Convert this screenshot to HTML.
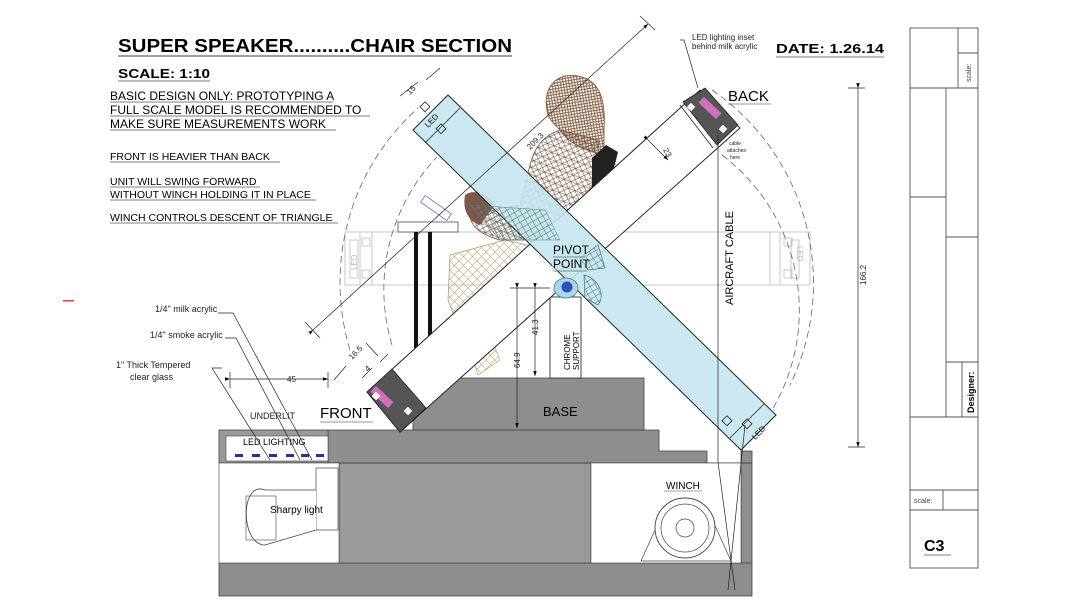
<!DOCTYPE html>
<html><head><meta charset="utf-8"><style>
html,body{margin:0;padding:0;background:#fff;}
svg{display:block;font-family:"Liberation Sans",Arial,sans-serif;}
</style></head><body>
<svg width="1080" height="608" viewBox="0 0 1080 608" xmlns="http://www.w3.org/2000/svg">
<defs>
<pattern id="hair" width="4" height="4" patternUnits="userSpaceOnUse" patternTransform="rotate(35)">
<rect width="4" height="4" fill="#fff"/><path d="M0 0L4 4M4 0L0 4" stroke="#7a5030" stroke-width="0.8"/></pattern>
<pattern id="mesh" width="7" height="7" patternUnits="userSpaceOnUse" patternTransform="rotate(20)">
<path d="M0 0L7 7M7 0L0 7M0 3.5H7" stroke="#6b4a3a" stroke-width="0.6" fill="none"/></pattern>
<pattern id="mesh2" width="8" height="8" patternUnits="userSpaceOnUse" patternTransform="rotate(15)">
<path d="M0 0L8 8M8 0L0 8" stroke="#5a8080" stroke-width="0.6" fill="none"/></pattern>
<pattern id="mesh3" width="9" height="9" patternUnits="userSpaceOnUse">
<path d="M0 0L9 9M9 0L0 9" stroke="#c9a080" stroke-width="0.6" fill="none"/></pattern>
<marker id="ar" markerWidth="8" markerHeight="8" refX="7" refY="4" orient="auto"><path d="M0 1.5L7 4L0 6.5z" fill="#000"/></marker>
</defs>

<!-- ghost horizontal bar -->
<g stroke="#bbb" stroke-width="0.8" fill="none">
<rect x="345" y="232" width="465" height="53"/>
<line x1="360" y1="232" x2="360" y2="285"/><line x1="372" y1="232" x2="372" y2="285"/>
<line x1="780" y1="232" x2="780" y2="285"/><line x1="770" y1="232" x2="770" y2="285"/>
<rect x="350" y="240" width="8" height="38"/><rect x="791" y="240" width="8" height="38"/>
<rect x="362" y="238" width="8" height="8"/><rect x="362" y="270" width="8" height="8"/>
<rect x="784" y="238" width="8" height="8"/><rect x="784" y="270" width="8" height="8"/>
</g>
<text x="0" y="0" font-size="8" fill="#bbb" transform="translate(357,270) rotate(-90)">LED</text>
<text x="0" y="0" font-size="8" fill="#bbb" transform="translate(797,246) rotate(90)">LED</text>

<!-- dashed arcs -->
<g fill="none" stroke="#666" stroke-width="0.8" stroke-dasharray="7,4">
<path d="M350 350 A234 234 0 0 1 418 108"/>
<path d="M712 90 A234 234 0 0 1 790 385"/>
<path d="M392 345 A192 192 0 0 1 437 157"/>
<path d="M722 155 A195 195 0 0 1 772 410"/>
</g>

<!-- base -->
<g fill="#8e8e8e" stroke="#444" stroke-width="0.8">
<rect x="219" y="563" width="533" height="33"/>
<polygon points="328,430 659,430 659,451 707,451 707,463 328,463"/>
<rect x="413" y="378" width="231" height="52"/>
<rect x="339" y="463" width="252" height="100" fill="#9a9a9a"/>
<rect x="741" y="451" width="11" height="112"/>
<rect x="219" y="430" width="109" height="33" fill="#9a9a9a"/>
</g>
<line x1="219" y1="463" x2="752" y2="463" stroke="#444"/>
<rect x="226" y="436" width="102" height="25" fill="#fff" stroke="#444" stroke-width="0.6"/>
<rect x="219" y="463" width="120" height="100" fill="#fff" stroke="#444" stroke-width="0.6"/>
<rect x="591" y="463" width="150" height="100" fill="#fff" stroke="#444" stroke-width="0.6"/>
<g fill="#22339a"><rect x="235" y="454" width="8" height="3"/><rect x="252" y="454" width="8" height="3"/><rect x="269" y="454" width="8" height="3"/><rect x="286" y="454" width="8" height="3"/><rect x="301" y="454" width="8" height="3"/><rect x="316" y="454" width="8" height="3"/></g>
<text x="243" y="445" font-size="9">LED LIGHTING</text>
<!-- sharpy -->
<rect x="316" y="468" width="22" height="62" fill="#fff" stroke="#444" stroke-width="0.7"/>
<path d="M316 490 L265 490 C240 480 240 545 265 545 L316 530" fill="#fff" stroke="#444" stroke-width="0.8"/>
<rect x="246" y="496" width="30" height="44" fill="none" stroke="#444" stroke-width="0.6"/>
<text x="270" y="513" font-size="10">Sharpy light</text>
<!-- winch -->
<polygon points="641,561 664,510 708,510 731,561" fill="#fff" stroke="#444" stroke-width="0.7"/>
<ellipse cx="685" cy="528" rx="30" ry="30" fill="#fff" stroke="#444" stroke-width="0.9"/>
<ellipse cx="685" cy="528" rx="24" ry="24" fill="none" stroke="#444" stroke-width="0.7"/>
<ellipse cx="685" cy="528" rx="9" ry="9" fill="none" stroke="#444" stroke-width="0.7"/>
<text x="666" y="489" font-size="10">WINCH</text>
<line x1="664" y1="491" x2="702" y2="491" stroke="#444" stroke-width="0.6"/>
<text x="543" y="416" font-size="13">BASE</text>

<!-- chrome support -->
<rect x="550" y="297" width="31" height="81" fill="#fff" stroke="#333" stroke-width="0.9"/>
<text font-size="8" transform="translate(570,370) rotate(-90)">CHROME</text>
<text font-size="8" transform="translate(579,370) rotate(-90)">SUPPORT</text>

<!-- table and chair -->
<rect x="398" y="222" width="60" height="10" fill="#fff" stroke="#333" stroke-width="0.7"/>
<rect x="420" y="204" width="32" height="8" fill="none" stroke="#6677bb" stroke-width="0.8" transform="rotate(35 436 208)"/>
<rect x="414" y="232" width="4" height="118" fill="#111"/>
<rect x="428" y="232" width="4" height="118" fill="#111"/>
<polygon points="450,255 505,240 540,248 490,295 465,345 448,300" fill="url(#mesh3)" stroke="#b0a070" stroke-width="0.8"/>
<polygon points="470,350 490,335 500,360 478,375" fill="url(#mesh3)" stroke="#b0a070" stroke-width="0.6"/>

<!-- person -->
<path d="M548 115 C540 85 560 72 578 76 C600 80 606 100 604 130 L604 155 C590 150 572 148 560 130 C555 125 550 120 548 115Z" fill="url(#hair)" stroke="#7a5030" stroke-width="0.8"/>
<path d="M560 130 L598 140 C600 160 592 195 580 210 L575 240 L500 240 C480 235 470 225 470 215 L520 205 L530 165 C535 145 545 135 560 130Z" fill="url(#mesh)" stroke="#6b4a3a" stroke-width="0.7"/>
<path d="M465 195 C475 188 490 195 495 205 L480 225 C470 222 462 212 465 195Z" fill="#7a5a4a"/>
<path d="M592 158 L606 145 L618 152 L605 205 L592 210Z" fill="#222"/>

<!-- front bar (white) -->
<polygon points="367,392 700,90 740,128 400,432" fill="#fff" stroke="#222" stroke-width="1"/>
<polygon points="367,392 392,369 426,408 400,432" fill="#555" stroke="#222" stroke-width="0.8"/>
<rect x="378" y="385" width="8" height="24" fill="#d070c0" transform="rotate(-47 382 397)"/>
<rect x="373" y="393" width="6" height="6" fill="#fff" transform="rotate(-47 376 396)"/>
<rect x="405" y="408" width="6" height="6" fill="#fff" transform="rotate(-47 408 411)"/>
<polygon points="683,102 705,88 738,125 717,145" fill="#555" stroke="#222" stroke-width="0.8"/>
<line x1="680" y1="105" x2="713" y2="148" stroke="#222" stroke-width="0.8"/>
<rect x="706" y="96" width="8" height="24" fill="#d070c0" transform="rotate(-47 710 108)"/>
<rect x="688" y="104" width="6" height="6" fill="#fff" transform="rotate(-47 691 107)"/>
<rect x="720" y="126" width="6" height="6" fill="#fff" transform="rotate(-47 723 129)"/>

<!-- back bar (blue) -->
<polygon points="413,130 448,95 776,415 741,450" fill="#c5e6ef" fill-opacity="0.9" stroke="#222" stroke-width="1"/>
<line x1="425" y1="143" x2="460" y2="108" stroke="#222" stroke-width="0.7"/>
<line x1="730" y1="438" x2="764" y2="404" stroke="#222" stroke-width="0.7"/>
<g fill="none" stroke="#222" stroke-width="0.8">
<rect x="422" y="103" width="7" height="7" transform="rotate(45 425 106)"/>
<rect x="438" y="125" width="7" height="7" transform="rotate(45 441 128)"/>
<rect x="744" y="420" width="7" height="7" transform="rotate(45 747 423)"/>
<rect x="724" y="417" width="7" height="7" transform="rotate(45 727 420)"/>
</g>
<text font-size="8" transform="translate(428,128) rotate(-45)">LED</text>
<text font-size="8" transform="translate(755,440) rotate(-45)">LED</text>
<!-- pivot overlay shapes -->
<path d="M580 258 L598 245 L605 268 L588 270Z" fill="url(#mesh2)" stroke="#4a7080" stroke-width="0.7"/>
<path d="M584 275 C598 278 606 295 598 305 L585 298Z" fill="url(#mesh2)" stroke="#4a7080" stroke-width="0.7"/>
<path d="M470 205 L545 210 L560 240 L500 240 Z" fill="url(#mesh2)" stroke="#5a8080" stroke-width="0.5"/>
<ellipse cx="566" cy="288" rx="12" ry="10" fill="#a8d8e8" stroke="#4a7080" stroke-width="0.7"/>
<circle cx="567" cy="287" r="5.5" fill="#2f4fc0"/>
<rect x="552" y="245" width="34" height="26" fill="#c5e6ef" fill-opacity="0.6"/>
<text x="553" y="254" font-size="12">PIVOT</text>
<text x="553" y="268" font-size="12">POINT</text>
<line x1="553" y1="257" x2="585" y2="257" stroke="#333" stroke-width="0.5"/>
<line x1="553" y1="271" x2="587" y2="271" stroke="#333" stroke-width="0.5"/>

<!-- dimension lines -->
<g stroke="#222" stroke-width="0.7" fill="none">
<line x1="313" y1="330" x2="648" y2="24" marker-end="url(#ar)" marker-start="url(#ar)"/>
<line x1="305" y1="322" x2="320" y2="338"/><line x1="640" y1="16" x2="655" y2="30"/>
<line x1="648" y1="140" x2="668" y2="160" marker-end="url(#ar)" marker-start="url(#ar)"/>
<line x1="858" y1="88" x2="858" y2="447" marker-end="url(#ar)" marker-start="url(#ar)"/>
<line x1="848" y1="88" x2="865" y2="88"/><line x1="848" y1="447" x2="865" y2="447"/>
<line x1="517" y1="288" x2="517" y2="428" marker-end="url(#ar)" marker-start="url(#ar)"/>
<line x1="535" y1="288" x2="535" y2="376" marker-end="url(#ar)" marker-start="url(#ar)"/>
<line x1="510" y1="288" x2="550" y2="288"/>
<line x1="230" y1="379" x2="328" y2="379" marker-end="url(#ar)" marker-start="url(#ar)"/>
<line x1="230" y1="372" x2="230" y2="388"/><line x1="328" y1="372" x2="328" y2="388"/>
<line x1="334" y1="380" x2="346" y2="366"/><line x1="366" y1="343" x2="378" y2="356"/>
<line x1="362" y1="378" x2="372" y2="368"/><line x1="380" y1="362" x2="388" y2="354"/>
<line x1="400" y1="96" x2="418" y2="82"/><line x1="426" y1="80" x2="440" y2="68"/>
<line x1="718" y1="135" x2="718" y2="462"/>
<line x1="718" y1="462" x2="735" y2="590"/><line x1="745" y1="425" x2="728" y2="590"/>
<polyline points="222,368 212,368 270,460" /><polyline points="225,338 236,338 300,460"/><polyline points="218,313 233,313 312,460"/>
<polyline points="680,40 684,40 698,88"/>
</g>
<g font-size="8" fill="#222">
<text x="287" y="382">45</text>
<text transform="translate(352,360) rotate(-45)">16.5</text>
<text transform="translate(368,372) rotate(-45)">4</text>
<text transform="translate(410,95) rotate(-45)">15</text>
<text transform="translate(530,150) rotate(-45)">209.3</text>
<text transform="translate(663,150) rotate(60)">23</text>
<text transform="translate(866,285) rotate(-90)">166.2</text>
<text transform="translate(520,368) rotate(-90)">64.9</text>
<text transform="translate(538,335) rotate(-90)">41.3</text>
<text x="692" y="40">LED lighting inset</text>
<text x="692" y="49">behind milk acrylic</text>
<text x="155" y="312" font-size="9">1/4" milk acrylic</text>
<text x="150" y="338" font-size="9">1/4" smoke acrylic</text>
<text x="116" y="368" font-size="9">1" Thick Tempered</text>
<text x="130" y="380" font-size="9">clear glass</text>
<text x="250" y="419" font-size="9">UNDERLIT</text>
<text x="729" y="145" font-size="5">cable</text>
<text x="727" y="152" font-size="5">attaches</text>
<text x="730" y="159" font-size="5">here</text>
</g>
<text font-size="11" transform="translate(733,305) rotate(-90)">AIRCRAFT CABLE</text>
<text x="728" y="101" font-size="15">BACK</text>
<line x1="728" y1="104" x2="771" y2="104" stroke="#333" stroke-width="0.6"/>
<text x="320" y="418" font-size="15">FRONT</text>
<line x1="320" y1="422" x2="373" y2="422" stroke="#333" stroke-width="0.6"/>

<!-- header text -->
<text x="118" y="52" font-size="18" font-weight="bold" textLength="394" lengthAdjust="spacingAndGlyphs">SUPER SPEAKER..........CHAIR SECTION</text>
<line x1="118" y1="56" x2="512" y2="56" stroke="#000" stroke-width="0.8"/>
<text x="118" y="78" font-size="13" font-weight="bold" textLength="92" lengthAdjust="spacingAndGlyphs">SCALE:  1:10</text>
<line x1="118" y1="81" x2="210" y2="81" stroke="#000" stroke-width="0.6"/>
<g font-size="12">
<text x="110" y="100">BASIC DESIGN ONLY:  PROTOTYPING A</text>
<text x="110" y="114">FULL SCALE MODEL IS RECOMMENDED TO</text>
<text x="110" y="128">MAKE SURE MEASUREMENTS WORK</text>
</g>
<g stroke="#000" stroke-width="0.5"><line x1="110" y1="102" x2="333" y2="102"/><line x1="110" y1="116" x2="370" y2="116"/><line x1="110" y1="130" x2="336" y2="130"/>
<line x1="110" y1="162" x2="280" y2="162"/><line x1="110" y1="187" x2="260" y2="187"/><line x1="110" y1="200" x2="316" y2="200"/><line x1="110" y1="223" x2="338" y2="223"/></g>
<g font-size="10.5">
<text x="110" y="160">FRONT  IS HEAVIER THAN BACK</text>
<text x="110" y="185">UNIT WILL SWING FORWARD</text>
<text x="110" y="198">WITHOUT WINCH HOLDING IT IN PLACE</text>
<text x="110" y="221">WINCH CONTROLS DESCENT OF TRIANGLE</text>
</g>
<text x="776" y="53" font-size="13" font-weight="bold" textLength="108" lengthAdjust="spacingAndGlyphs">DATE:  1.26.14</text>
<line x1="776" y1="57" x2="884" y2="57" stroke="#000" stroke-width="0.6"/>
<rect x="63" y="300" width="11" height="1.5" fill="#e04040"/>

<!-- title block -->
<g fill="none" stroke="#555" stroke-width="0.9">
<rect x="910" y="28" width="68" height="540"/>
<line x1="958" y1="28" x2="958" y2="88"/><line x1="958" y1="53" x2="978" y2="53"/>
<line x1="910" y1="88" x2="978" y2="88"/>
<line x1="946" y1="88" x2="946" y2="417"/>
<line x1="910" y1="197" x2="946" y2="197"/>
<line x1="946" y1="237" x2="978" y2="237"/>
<line x1="946" y1="362" x2="978" y2="362"/>
<line x1="962" y1="362" x2="962" y2="417"/>
<line x1="910" y1="417" x2="978" y2="417"/>
<line x1="910" y1="490" x2="978" y2="490"/>
<line x1="943" y1="490" x2="943" y2="510"/>
<line x1="910" y1="510" x2="978" y2="510"/>
</g>
<text font-size="7" fill="#444" transform="translate(971,82) rotate(-90)">scale:</text>
<text font-size="9" font-weight="bold" transform="translate(974,413) rotate(-90)">Designer:</text>
<text x="914" y="503" font-size="7" fill="#444">scale:</text>
<text x="924" y="551" font-size="16" font-weight="bold">C3</text>
<line x1="924" y1="555" x2="951" y2="555" stroke="#000" stroke-width="0.6"/>
</svg>
</body></html>
